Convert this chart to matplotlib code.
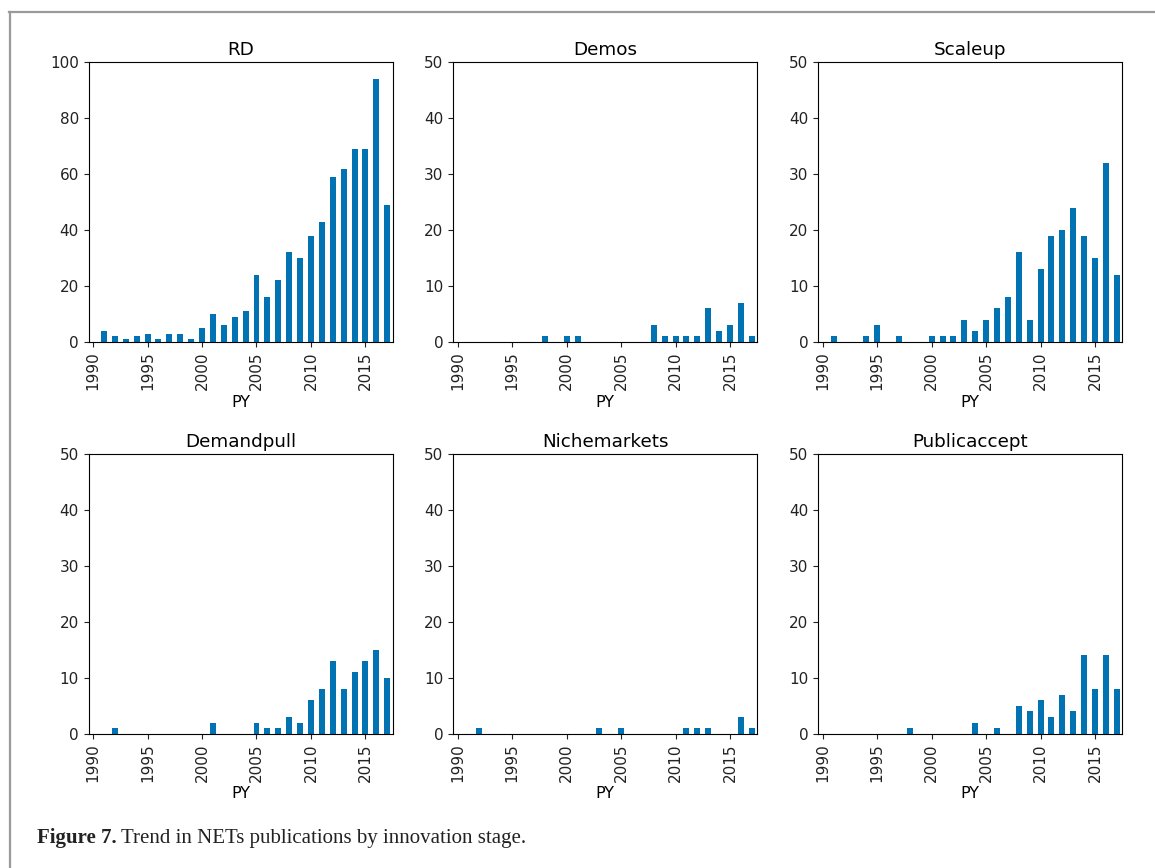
import numpy as np
import matplotlib
matplotlib.use("Agg")
import matplotlib.pyplot as plt
from matplotlib.lines import Line2D

plt.rcParams['font.family'] = ['DejaVu Sans']

# publication years
years = np.arange(1990, 2018)

# counts per year, 1990..2017
rd = [0, 4, 2, 1, 2, 3, 1, 3, 3, 1, 5, 10, 6, 9, 11, 24, 16, 22, 32, 30,
      38, 43, 59, 62, 69, 69, 94, 49]
demos = [0, 0, 0, 0, 0, 0, 0, 0, 1, 0, 1, 1, 0, 0, 0, 0, 0, 0, 3, 1,
         1, 1, 1, 6, 2, 3, 7, 1]
scaleup = [0, 1, 0, 0, 1, 3, 0, 1, 0, 0, 1, 1, 1, 4, 2, 4, 6, 8, 16, 4,
           13, 19, 20, 24, 19, 15, 32, 12]
demandpull = [0, 0, 1, 0, 0, 0, 0, 0, 0, 0, 0, 2, 0, 0, 0, 2, 1, 1, 3, 2,
              6, 8, 13, 8, 11, 13, 15, 10]
nichemarkets = [0, 0, 1, 0, 0, 0, 0, 0, 0, 0, 0, 0, 0, 1, 0, 1, 0, 0, 0, 0,
                0, 1, 1, 1, 0, 0, 3, 1]
publicaccept = [0, 0, 0, 0, 0, 0, 0, 0, 1, 0, 0, 0, 0, 0, 2, 0, 1, 0, 5, 4,
                6, 3, 7, 4, 14, 8, 14, 8]

titles = ["RD", "Demos", "Scaleup", "Demandpull", "Nichemarkets", "Publicaccept"]
series = [rd, demos, scaleup, demandpull, nichemarkets, publicaccept]
ymax = [100, 50, 50, 50, 50, 50]
xticks = [1990, 1995, 2000, 2005, 2010, 2015]

W, H = 1155, 868
fig = plt.figure(figsize=(W / 100, H / 100), dpi=100)

lefts = [88.7, 453.3, 818.3]
tops = [62.3, 454.0]
aw, ah = 304.0, 279.7
col = "#0173b2"

for i in range(6):
    r, c = divmod(i, 3)
    ax = fig.add_axes([lefts[c] / W, (H - tops[r] - ah) / H, aw / W, ah / H])
    ax.bar(years, series[i], width=0.55, color=col)
    ax.set_xlim(1989.6, 2017.5)
    ax.set_ylim(0, ymax[i])
    ax.set_yticks(np.linspace(0, ymax[i], 6))
    ax.set_xticks(xticks)
    ax.set_xticklabels([str(x) for x in xticks], rotation=90)
    ax.tick_params(labelsize=11, colors="#222222")
    ax.set_title(titles[i], fontsize=13.2, pad=5)
    ax.set_xlabel("PY", fontsize=11.5, labelpad=3)

# page frame lines
fig.add_artist(Line2D([9 / W, 1], [1 - 12 / H, 1 - 12 / H], color="#9a9a9a", lw=1.6))
fig.add_artist(Line2D([10 / W, 10 / W], [0, 1 - 12 / H], color="#9a9a9a", lw=1.6))

# caption
t1 = fig.text(37 / W, (H - 843) / H, "Figure 7.", fontsize=15, fontweight="bold",
              family="Liberation Serif", va="baseline", color="#222222")
fig.canvas.draw()
bb = t1.get_window_extent()
fig.text((bb.x1 + 4) / W, (H - 843) / H, "Trend in NETs publications by innovation stage.",
         fontsize=15, family="Liberation Serif", va="baseline", color="#222222")

fig.savefig("out.png", dpi=100)
